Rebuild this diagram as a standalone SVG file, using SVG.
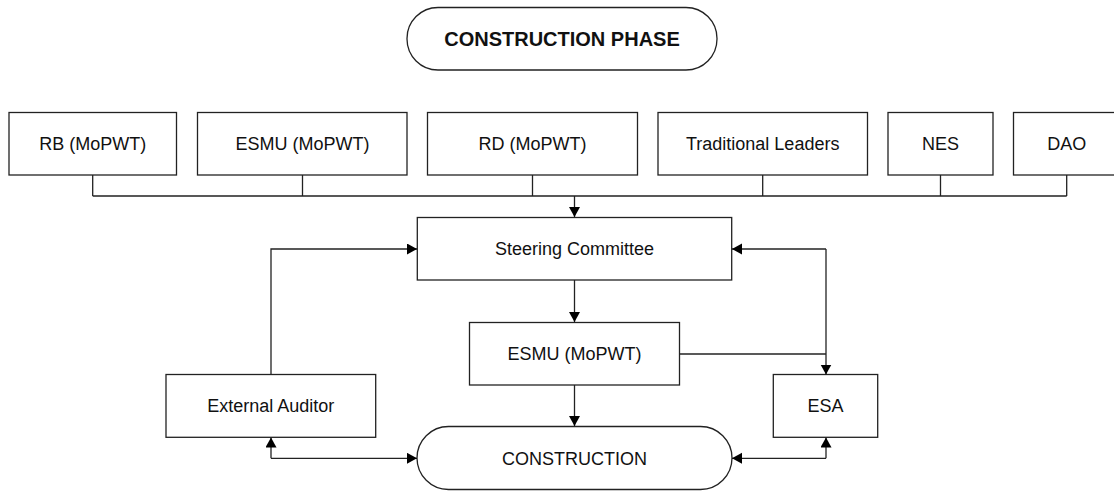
<svg xmlns="http://www.w3.org/2000/svg" width="1114" height="491" viewBox="0 0 1114 491">
  <style>
    .box { fill: #ffffff; stroke: #222222; stroke-width: 1.3; }
    .lbl { font-family: "Liberation Sans", Arial, sans-serif; font-size: 18px; fill: #111111; text-anchor: middle; }
    .title { font-weight: bold; font-size: 20px; }
    .wire { fill: none; stroke: #222222; stroke-width: 1.3; }
  </style>
  <defs>
    <marker id="arrow" markerUnits="userSpaceOnUse" markerWidth="12" markerHeight="12" refX="10" refY="5.5" orient="auto">
      <path d="M0,0 L10,5.5 L0,11 Z" fill="#000000"/>
    </marker>
  </defs>
  <rect width="1114" height="491" fill="#ffffff"/>

  <!-- Title -->
  <g id="phase">
    <rect class="box" x="407" y="7.5" width="310" height="62.5" rx="31" ry="31"/>
    <text class="lbl title" x="562" y="46">CONSTRUCTION PHASE</text>
  </g>

  <!-- Stakeholder row -->
  <g id="rb">
    <rect class="box" x="9" y="112.5" width="167.5" height="62.5"/>
    <text class="lbl" x="92.7" y="150">RB (MoPWT)</text>
  </g>
  <g id="esmu-top">
    <rect class="box" x="197.5" y="112.5" width="209.5" height="62.5"/>
    <text class="lbl" x="302.5" y="150">ESMU (MoPWT)</text>
  </g>
  <g id="rd">
    <rect class="box" x="427.5" y="112.5" width="210" height="62.5"/>
    <text class="lbl" x="532.5" y="150">RD (MoPWT)</text>
  </g>
  <g id="traditional">
    <rect class="box" x="658" y="112.5" width="209.5" height="62.5"/>
    <text class="lbl" x="762.7" y="150">Traditional Leaders</text>
  </g>
  <g id="nes">
    <rect class="box" x="888" y="112.5" width="105" height="62.5"/>
    <text class="lbl" x="940.5" y="150">NES</text>
  </g>
  <g id="dao">
    <rect class="box" x="1013.5" y="112.5" width="107" height="62.5"/>
    <text class="lbl" x="1066.7" y="150">DAO</text>
  </g>

  <!-- Management -->
  <g id="steering">
    <rect class="box" x="417.3" y="217.5" width="314.4" height="62.5"/>
    <text class="lbl" x="574.5" y="255">Steering Committee</text>
  </g>
  <g id="esmu">
    <rect class="box" x="469.5" y="322.5" width="210" height="62.5"/>
    <text class="lbl" x="574.5" y="360">ESMU (MoPWT)</text>
  </g>
  <g id="auditor">
    <rect class="box" x="166" y="374.5" width="209.7" height="62.8"/>
    <text class="lbl" x="270.8" y="412">External Auditor</text>
  </g>
  <g id="esa">
    <rect class="box" x="773.3" y="374.5" width="104.4" height="62.8"/>
    <text class="lbl" x="825.5" y="412">ESA</text>
  </g>
  <g id="construction">
    <rect class="box" x="417" y="426.5" width="315" height="63" rx="31.5" ry="31.5"/>
    <text class="lbl" x="574.5" y="464.5">CONSTRUCTION</text>
  </g>

  <!-- Connectors -->
  <g id="connectors">
    <!-- stakeholder bus -->
    <path class="wire" d="M92.7,175 V196 M302.5,175 V196 M532.5,175 V196 M762.7,175 V196 M940.5,175 V196 M1066.7,175 V196 M92.7,196 H1066.7"/>
    <path class="wire" d="M574.5,196 V217" marker-end="url(#arrow)"/>
    <!-- steering to ESMU to construction -->
    <path class="wire" d="M574.5,280 V322" marker-end="url(#arrow)"/>
    <path class="wire" d="M574.5,385 V426" marker-end="url(#arrow)"/>
    <!-- external auditor loop -->
    <path class="wire" d="M271,374.5 V249 H417" marker-end="url(#arrow)"/>
    <path class="wire" d="M271,458.3 V437.5" marker-end="url(#arrow)"/>
    <path class="wire" d="M271,458.3 H417" marker-end="url(#arrow)"/>
    <!-- ESA loop -->
    <path class="wire" d="M826,249 H732" marker-end="url(#arrow)"/>
    <path class="wire" d="M826,249 V374.5" marker-end="url(#arrow)"/>
    <path class="wire" d="M679.5,354 H826"/>
    <path class="wire" d="M826,458.3 H732" marker-end="url(#arrow)"/>
    <path class="wire" d="M826,458.3 V437.5" marker-end="url(#arrow)"/>
  </g>
</svg>
